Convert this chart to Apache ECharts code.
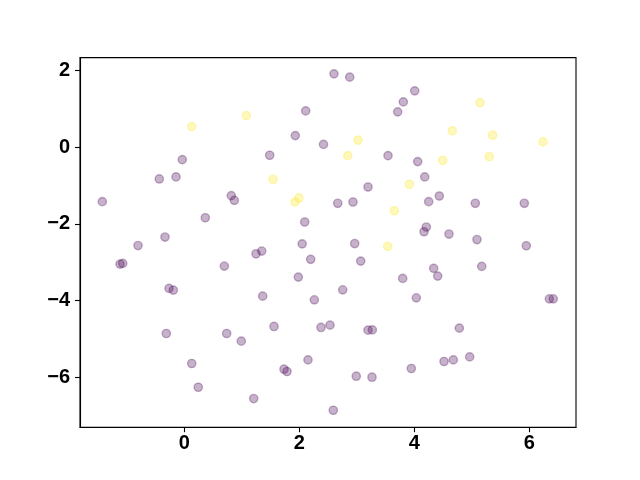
<!DOCTYPE html>
<html>
<head>
<meta charset="utf-8">
<script src="https://cdn.jsdelivr.net/npm/echarts@6/dist/echarts.min.js"></script>
<style>html,body{margin:0;padding:0;background:#fff}#c{width:640px;height:480px}</style>
</head>
<body>
<div id="c"></div>
<script>
var xTicks = [0, 2, 4, 6];
var yTicks = [-6, -4, -2, 0, 2];

var purpleX = [-1.426, 2.111, 1.930, 2.421, -0.035, -0.435, -0.144, 1.485, 0.817, 0.870,
  0.365, 2.094, -0.336, -0.805, 2.050, 2.603, 2.877, 4.007, 3.809, 3.711,
  3.543, 4.059, 4.181, 3.195, 2.668, 2.934, 4.250, 4.435, 5.061, 5.913,
  4.209, 4.169, 4.603, 5.090, 2.963, 5.948, -1.118, -1.071, 0.696, 1.247,
  1.346, 2.198, 1.983, -0.266, -0.191, 1.363, 2.261, -0.313, 0.737, 0.991,
  1.560, 2.377, 2.534, 0.129, 0.243, 2.151, 1.734, 1.786, 1.207, 2.591,
  3.068, 3.798, 4.337, 4.407, 5.172, 2.755, 4.035, 6.348, 6.417, 3.195,
  3.270, 4.783, 4.517, 4.678, 4.963, 3.948, 2.991, 3.264];
var purpleY = [-1.422, 0.949, 0.303, 0.073, -0.324, -0.829, -0.776, -0.209, -1.265, -1.386,
  -1.841, -1.953, -2.345, -2.567, -2.523, 1.916, 1.830, 1.472, 1.184, 0.923,
  -0.220, -0.376, -0.776, -1.038, -1.464, -1.430, -1.422, -1.273, -1.464, -1.464,
  -2.084, -2.207, -2.267, -2.410, -2.515, -2.573, -3.051, -3.033, -3.103, -2.782,
  -2.711, -2.928, -3.391, -3.686, -3.731, -3.888, -3.984, -4.863, -4.863, -5.064,
  -4.680, -4.706, -4.646, -5.647, -6.267, -5.553, -5.796, -5.856, -6.562, -6.868,
  -2.973, -3.425, -3.163, -3.365, -3.111, -3.723, -3.932, -3.958, -3.958, -4.776,
  -4.769, -4.724, -5.595, -5.553, -5.475, -5.778, -5.979, -6.005];

var yellowX = [0.129, 1.078, 1.543, 1.995, 1.925, 5.143, 4.661, 5.363, 6.238, 3.021,
  2.842, 4.494, 5.304, 3.913, 3.652, 3.537];
var yellowY = [0.539, 0.826, -0.837, -1.325, -1.430, 1.166, 0.426, 0.314, 0.139, 0.183,
  -0.220, -0.340, -0.246, -0.967, -1.658, -2.588];

function pairs(xs, ys) { return xs.map(function (x, i) { return [x, ys[i]]; }); }
function minus(v) { return String(v).replace('-', '\u2212'); }

var font = { fontFamily: '"Liberation Sans", Arial, sans-serif', fontWeight: 'bold', fontSize: 20, color: '#000' };

var chart = echarts.init(document.getElementById('c'), null, { renderer: 'canvas' });
chart.setOption({
  animation: false,
  backgroundColor: '#fff',
  grid: { left: 80, right: 64, top: 57.6, bottom: 52.8, show: true, borderColor: '#000', borderWidth: 1.1, backgroundColor: 'transparent' },
  xAxis: {
    type: 'value', min: -1.814, max: 6.812,
    axisLine: { show: true, onZero: false, lineStyle: { color: '#000', width: 1.1 } },
    axisTick: { show: true, inside: false, length: 5, customValues: xTicks, lineStyle: { color: '#000', width: 1.1 } },
    axisLabel: Object.assign({ margin: 6, customValues: xTicks, formatter: minus }, font),
    splitLine: { show: false }
  },
  yAxis: {
    type: 'value', min: -7.31, max: 2.34,
    axisLine: { show: true, onZero: false, lineStyle: { color: '#000', width: 1.1 } },
    axisTick: { show: true, inside: false, length: 5, customValues: yTicks, lineStyle: { color: '#000', width: 1.1 } },
    axisLabel: Object.assign({ margin: 10, customValues: yTicks, formatter: minus }, font),
    splitLine: { show: false }
  },
  series: [
    {
      type: 'scatter', data: pairs(purpleX, purpleY), symbol: 'circle', symbolSize: 8.3,
      itemStyle: { color: 'rgba(68,1,84,0.3)', borderColor: 'rgba(68,1,84,0.3)', borderWidth: 1.4, opacity: 1 }
    },
    {
      type: 'scatter', data: pairs(yellowX, yellowY), symbol: 'circle', symbolSize: 8.3,
      itemStyle: { color: 'rgba(253,231,37,0.3)', borderColor: 'rgba(253,231,37,0.3)', borderWidth: 1.4, opacity: 1 }
    }
  ]
});
</script>
</body>
</html>
